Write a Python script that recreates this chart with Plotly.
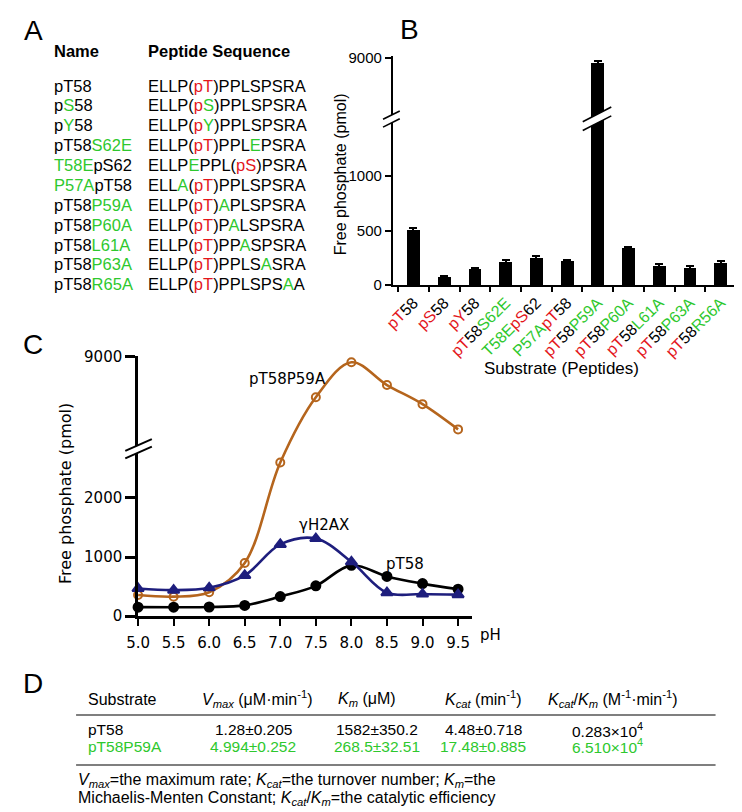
import numpy as np
import plotly.graph_objects as go

W, H = 742, 812
RED = "#E3161C"
GREEN = "#2EC82E"
ORANGE = "#B5651D"
NAVY = "#1E1E7D"
ARIAL = "Liberation Sans, Arial, sans-serif"
VERD = "DejaVu Sans, Verdana, sans-serif"


def r(s):
    return f'<span style="color:{RED}">{s}</span>'


def g(s):
    return f'<span style="color:{GREEN}">{s}</span>'


# ---------------- Panel A: peptide table ----------------
peptide_names = ["pT58", "p" + g("S") + "58", "p" + g("Y") + "58", "pT58" + g("S62E"),
                 g("T58E") + "pS62", g("P57A") + "pT58", "pT58" + g("P59A"), "pT58" + g("P60A"),
                 "pT58" + g("L61A"), "pT58" + g("P63A"), "pT58" + g("R65A")]
peptide_seqs = ["ELLP(" + r("pT") + ")PPLSPSRA",
                "ELLP(" + r("p") + g("S") + ")PPLSPSRA",
                "ELLP(" + r("p") + g("Y") + ")PPLSPSRA",
                "ELLP(" + r("pT") + ")PPL" + g("E") + "PSRA",
                "ELLP" + g("E") + "PPL(" + r("pS") + ")PSRA",
                "ELL" + g("A") + "(" + r("pT") + ")PPLSPSRA",
                "ELLP(" + r("pT") + ")" + g("A") + "PLSPSRA",
                "ELLP(" + r("pT") + ")P" + g("A") + "LSPSRA",
                "ELLP(" + r("pT") + ")PP" + g("A") + "SPSRA",
                "ELLP(" + r("pT") + ")PPLS" + g("A") + "SRA",
                "ELLP(" + r("pT") + ")PPLSPS" + g("A") + "A"]

# ---------------- Panel B: bar chart ----------------
substrate_labels = [r("pT") + "58", r("pS") + "58", r("pY") + "58", r("pT") + "58" + g("S62E"),
                    g("T58E") + r("pS") + "62", g("P57A") + r("pT") + "58", r("pT") + "58" + g("P59A"),
                    r("pT") + "58" + g("P60A"), r("pT") + "58" + g("L61A"), r("pT") + "58" + g("P63A"),
                    r("pT") + "58" + g("R56A")]
free_phosphate = [505, 75, 148, 215, 250, 222, 8850, 340, 178, 160, 205]
free_phosphate_err = [14, 10, 12, 12, 14, 12, 60, 14, 12, 12, 16]
b_tick_values = [0, 500, 1000, 9000]
b_break_values = [0, 1450, 7500, 9000]     # lower segment 0-1450, upper 7500-9000
b_break_display = [0, 162, 177, 232]

# ---------------- Panel C: pH curves ----------------
ph = [5.0, 5.5, 6.0, 6.5, 7.0, 7.5, 8.0, 8.5, 9.0, 9.5]
pt58 = [153, 152, 155, 182, 331, 513, 860, 672, 551, 457]
gh2ax = [468, 440, 480, 689, 1214, 1313, 920, 397, 374, 364]
pt58p59a = [357, 330, 405, 900, 2600, 6080, 8600, 6960, 5580, 3760]
c_tick_values = [0, 1000, 2000, 9000]
c_break_values = [0, 2700, 3000, 9000]     # lower segment 0-2700, upper 3000-9000
c_break_display = [0, 163, 180, 265]

# ---------------- Panel D: kinetics table ----------------
kin_substrates = ["pT58", "pT58P59A"]
kin_vmax = ["1.28±0.205", "4.994±0.252"]
kin_km = ["1582±350.2", "268.5±32.51"]
kin_kcat = ["4.48±0.718", "17.48±0.885"]
kin_eff = ["0.283×10<sup>4</sup>", "6.510×10<sup>4</sup>"]
kin_colors = ["black", GREEN]
kin_headers = ["<i>V</i><sub><i>max</i></sub> (μM·min<sup>-1</sup>)",
               "<i>K</i><sub><i>m</i></sub> (μM)",
               "<i>K</i><sub><i>cat</i></sub> (min<sup>-1</sup>)",
               "<i>K</i><sub><i>cat</i></sub>/<i>K</i><sub><i>m</i></sub> (M<sup>-1</sup>·min<sup>-1</sup>)"]


def brk(vals, kv, kd):
    return np.interp(np.asarray(vals, dtype=float), kv, kd)


def px(x, y):
    return x / W, 1 - y / H


annotations = []
shapes = []


def text(x, y, s, size=16, family=ARIAL, xanchor="left", color="black", angle=0):
    xx, yy = px(x, y)
    annotations.append(dict(x=xx, y=yy, xref="paper", yref="paper", text=s, showarrow=False,
                            xanchor=xanchor, yanchor="middle", textangle=angle,
                            font=dict(size=size, family=family, color=color)))


def hline(x0, x1, y, color="#555555", width=1.6):
    a0, b0 = px(x0, y)
    a1, _ = px(x1, y)
    shapes.append(dict(type="line", xref="paper", yref="paper", x0=a0, x1=a1, y0=b0, y1=b0,
                       line=dict(color=color, width=width)))


def slash(x0, y0, x1, y1, gap, lw=1.6):
    # white band between two parallel black slanted lines
    h = gap / 2.0
    pts = [(x0, y0 - h), (x1, y1 - h), (x1, y1 + h), (x0, y0 + h)]
    path = "M " + " L ".join(f"{px(a, b)[0]:.5f},{px(a, b)[1]:.5f}" for a, b in pts) + " Z"
    shapes.append(dict(type="path", xref="paper", yref="paper", path=path,
                       fillcolor="white", line=dict(width=0), layer="above"))
    for s in (-h, h):
        a0, b0 = px(x0, y0 + s)
        a1, b1 = px(x1, y1 + s)
        shapes.append(dict(type="line", xref="paper", yref="paper", x0=a0, y0=b0, x1=a1, y1=b1,
                           line=dict(color="black", width=lw), layer="above"))


fig = go.Figure()

# ---- Panel B traces ----
b_disp = brk(free_phosphate, b_break_values, b_break_display)
b_err = brk(np.array(free_phosphate) + np.array(free_phosphate_err), b_break_values, b_break_display) - b_disp
fig.add_trace(go.Bar(x=substrate_labels, y=b_disp, width=0.42, marker=dict(color="black", line=dict(width=0)),
                     error_y=dict(type="data", array=b_err, visible=True, color="black", thickness=2, width=4),
                     xaxis="x", yaxis="y", showlegend=False))

# ---- Panel C traces ----
for vals, color, symbol, size in [(pt58p59a, ORANGE, "circle-open", 8),
                                  (pt58, "black", "circle", 9),
                                  (gh2ax, NAVY, "triangle-up", 10)]:
    fig.add_trace(go.Scatter(x=ph, y=brk(vals, c_break_values, c_break_display), mode="lines+markers",
                             line=dict(color=color, width=2.6, shape="spline", smoothing=1.0),
                             marker=dict(color=color, symbol=symbol, size=size,
                                         line=dict(color=color, width=2)),
                             cliponaxis=False, xaxis="x2", yaxis="y2", showlegend=False))

# ---- Axes ----
B_LEFT, B_RIGHT, B_BOTTOM = 379, 733, 275
B_RANGE = 234
C_LEFT, C_RIGHT, C_BOTTOM = 120, 459, 613
C_RANGE = 266

layout_axes = dict(
    xaxis=dict(domain=[B_LEFT / W, B_RIGHT / W], anchor="y", type="category", range=[-0.67, 10.67],
               tickson="boundaries", ticks="outside", ticklen=5, tickwidth=2, tickcolor="black",
               showline=True, linewidth=2, linecolor="black", tickangle=-45, showgrid=False,
               zeroline=False, tickfont=dict(size=16, family=ARIAL, color="black")),
    yaxis=dict(domain=[1 - B_BOTTOM / H, 1 - (B_BOTTOM - B_RANGE) / H], anchor="x", range=[0, B_RANGE],
               tickmode="array", tickvals=brk(b_tick_values, b_break_values, b_break_display),
               ticktext=[str(v) for v in b_tick_values], ticks="outside", ticklen=6, tickwidth=2,
               tickcolor="black", showline=True, linewidth=2, linecolor="black", showgrid=False,
               zeroline=False, tickfont=dict(size=15, family=ARIAL, color="black")),
    xaxis2=dict(domain=[C_LEFT / W, C_RIGHT / W], anchor="y2", range=[5.0, 9.69], tickmode="array",
                tickvals=ph, ticktext=[f"{v:.1f}" for v in ph], ticks="outside", ticklen=7, tickwidth=2.2,
                tickcolor="black", showline=True, linewidth=2.6, linecolor="black", showgrid=False,
                zeroline=False, ticklabelstandoff=4, tickfont=dict(size=15, family=VERD, color="black")),
    yaxis2=dict(domain=[1 - C_BOTTOM / H, 1 - (C_BOTTOM - C_RANGE) / H], anchor="x2", range=[0, C_RANGE],
                tickmode="array", tickvals=brk(c_tick_values, c_break_values, c_break_display),
                ticktext=[str(v) for v in c_tick_values], ticks="outside", ticklen=10, tickwidth=2.6,
                tickcolor="black", showline=True, linewidth=2.6, linecolor="black", showgrid=False,
                zeroline=False, tickfont=dict(size=15, family=VERD, color="black")),
)

# ---- Panel letters ----
text(2, 15, "A", size=28)
text(384, 14, "B", size=28)
text(1, 336, "C", size=28)
text(1, 682, "D", size=28)

# ---- Panel A text ----
text(33, 36, "<b>Name</b>", size=16.5)
text(128, 36, "<b>Peptide Sequence</b>", size=16.5)
for i, (nm, sq) in enumerate(zip(peptide_names, peptide_seqs)):
    y = 71 + 20.3 * i
    text(33, y, nm, size=16.5)
    text(128, y, sq, size=16.5)

# ---- Panel B titles and breaks ----
text(326, 162, "Free phosphate (pmol)", size=16, xanchor="center", angle=-90)
text(550, 360, "Substrate (Peptides)", size=17, xanchor="center")
slash(369, 109.5, 386, 101, 8)
slash(572, 112.5, 601, 97.5, 9)

# ---- Panel C titles, labels, break ----
text(47, 488, "Free phosphate (pmol)", size=16, family=VERD, xanchor="center", angle=-90)
text(466, 632, "pH", size=15, family=VERD)
text(313, 371, "pT58P59A", size=15, family=VERD, xanchor="right")
text(309, 520, "γH2AX", size=15, family=VERD, xanchor="center")
text(370, 560, "pT58", size=15, family=VERD)
slash(107, 448, 134, 436, 7.5, lw=2)

# ---- Panel D table ----
col_header_x = [241, 353, 471, 603]
col_value_x = [237, 363, 471, 597]
text(67, 698, "Substrate", size=16)
for hx, hs in zip(col_header_x, kin_headers):
    text(hx, 698, hs, size=16, xanchor="center")
hline(57, 707, 714)
for i, (sub, vm, km, kc, ef, colr) in enumerate(zip(kin_substrates, kin_vmax, kin_km, kin_kcat, kin_eff, kin_colors)):
    y = 729 + 17 * i
    text(67, y, sub, size=15.5, color=colr)
    for vx, vs in zip(col_value_x, [vm, km, kc, ef]):
        text(vx, y, vs, size=15.5, color=colr, xanchor="center")
hline(57, 707, 765)
text(57, 781, "<i>V</i><sub><i>max</i></sub>=the maximum rate; <i>K</i><sub><i>cat</i></sub>=the turnover number; "
              "<i>K</i><sub><i>m</i></sub>=the", size=16)
text(57, 799, "Michaelis-Menten Constant; <i>K</i><sub><i>cat</i></sub>/<i>K</i><sub><i>m</i></sub>"
              "=the catalytic efficiency", size=16)

fig.update_layout(width=W, height=H, margin=dict(l=0, r=0, t=0, b=0), autosize=False,
                  paper_bgcolor="white", plot_bgcolor="white", showlegend=False, bargap=0,
                  annotations=annotations, shapes=shapes, **layout_axes)

fig.write_html("out.html")
